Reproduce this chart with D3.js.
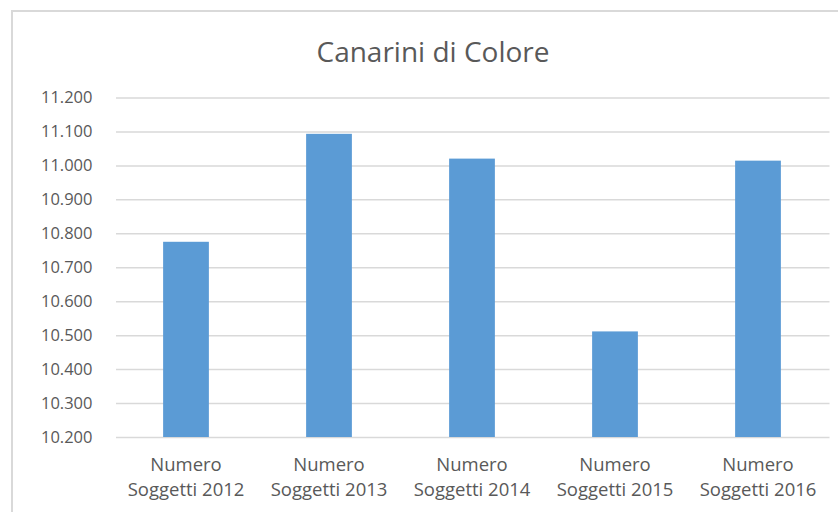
<!DOCTYPE html>
<html>
<head>
<meta charset="utf-8">
<script src="https://cdn.jsdelivr.net/npm/d3@7"></script>
<style>
  body { margin: 0; background: #fff; }
  svg { display: block; font-family: "Open Sans", Lato, sans-serif; }
  .grid line { stroke: #d9d9d9; stroke-width: 1.5; }
  .grid .domain { display: none; }
</style>
</head>
<body>
<div id="chart"></div>
<script>
// dati del grafico
var titolo = "Canarini di Colore";
var categorie = ["Numero Soggetti 2012", "Numero Soggetti 2013", "Numero Soggetti 2014", "Numero Soggetti 2015", "Numero Soggetti 2016"];
var valori = [10775, 11093, 11020, 10511, 11014];
var ticks = [10200, 10300, 10400, 10500, 10600, 10700, 10800, 10900, 11000, 11100, 11200];

var W = 838, H = 512;
var margin = {top: 97.5, left: 114.5, right: 8.5, bottom: 75};
var width = W - margin.left - margin.right,
    height = H - margin.top - margin.bottom;

var svg = d3.select("#chart").append("svg")
  .attr("width", W)
  .attr("height", H);

// bordo dell'area grafico (esce dall'immagine a destra e in basso)
svg.append("rect")
  .attr("x", 12).attr("y", 11)
  .attr("width", 860).attr("height", 540)
  .attr("fill", "#fff")
  .attr("stroke", "#d9d9d9")
  .attr("stroke-width", 2);

svg.append("text")
  .attr("x", 433)
  .attr("y", 62)
  .attr("text-anchor", "middle")
  .attr("fill", "#595959")
  .style("font-size", "28px")
  .text(titolo);

var g = svg.append("g")
  .attr("transform", "translate(" + margin.left + "," + margin.top + ")");

var x = d3.scaleBand()
  .domain(categorie)
  .range([0, width])
  .paddingInner(0.68)
  .paddingOuter(0.34);

var y = d3.scaleLinear()
  .domain([10200, 11200])
  .range([height, 0]);

// griglia orizzontale
g.append("g")
  .attr("class", "grid")
  .call(d3.axisLeft(y).tickValues(ticks).tickSize(-width).tickFormat(""))
  .selectAll(".tick line").attr("x1", 1.5);

// etichette asse y
g.selectAll(".ylab")
  .data(ticks)
  .enter().append("text")
  .attr("class", "ylab")
  .attr("x", -22)
  .attr("y", function(d){ return y(d); })
  .attr("dy", "0.36em")
  .attr("text-anchor", "end")
  .attr("fill", "#595959")
  .style("font-size", "16.5px")
  .text(function(d){ return (d / 1000).toFixed(3); });

// barre
g.selectAll(".bar")
  .data(valori)
  .enter().append("rect")
  .attr("class", "bar")
  .attr("x", function(d, i){ return x(categorie[i]); })
  .attr("y", function(d){ return y(d); })
  .attr("width", x.bandwidth())
  .attr("height", function(d){ return height - y(d); })
  .attr("fill", "#5b9bd5");

// etichette categorie su due righe
var lab = g.selectAll(".xlab")
  .data(categorie)
  .enter().append("text")
  .attr("class", "xlab")
  .attr("text-anchor", "middle")
  .attr("fill", "#595959")
  .style("font-size", "18.5px")
  .attr("transform", function(d){ return "translate(" + (x(d) + x.bandwidth() / 2) + "," + (height + 34) + ")"; });

lab.append("tspan")
  .attr("x", 0)
  .text(function(d){ return d.split(" ")[0]; });
lab.append("tspan")
  .attr("x", 0)
  .attr("dy", 25)
  .text(function(d){ return d.split(" ").slice(1).join(" "); });
</script>
</body>
</html>
